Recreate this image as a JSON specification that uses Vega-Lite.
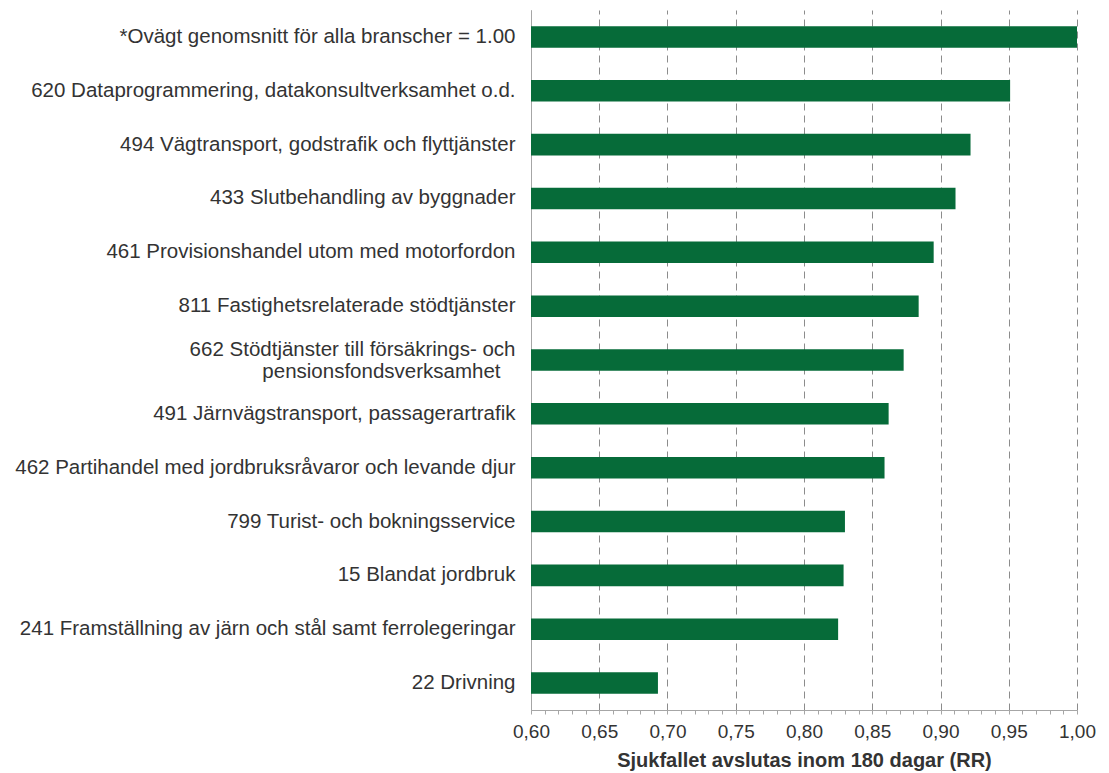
{
  "$schema": "https://vega.github.io/schema/vega-lite/v6.json",
  "autosize": {"type": "none"},
  "padding": {"left": 531, "top": 10, "right": 32, "bottom": 63},
  "width": 546,
  "height": 700,
  "background": "white",
  "config": {
    "view": {"stroke": null},
    "font": "Liberation Sans",
    "axis": {"labelFont": "Liberation Sans", "titleFont": "Liberation Sans"}
  },
  "data": {
    "values": [
      {"bransch": "*Ovägt genomsnitt för alla branscher = 1.00", "rr": 1.0},
      {"bransch": "620 Dataprogrammering, datakonsultverksamhet o.d.", "rr": 0.951},
      {"bransch": "494 Vägtransport, godstrafik och flyttjänster", "rr": 0.922},
      {"bransch": "433 Slutbehandling av byggnader", "rr": 0.911},
      {"bransch": "461 Provisionshandel utom med motorfordon", "rr": 0.895},
      {"bransch": "811 Fastighetsrelaterade stödtjänster", "rr": 0.884},
      {"bransch": "662 Stödtjänster till försäkrings- och|pensionsfondsverksamhet\u2800", "rr": 0.873},
      {"bransch": "491 Järnvägstransport, passagerartrafik", "rr": 0.862},
      {"bransch": "462 Partihandel med jordbruksråvaror och levande djur", "rr": 0.859},
      {"bransch": "799 Turist- och bokningsservice", "rr": 0.83},
      {"bransch": "15 Blandat jordbruk", "rr": 0.829},
      {"bransch": "241 Framställning av järn och stål samt ferrolegeringar", "rr": 0.825},
      {"bransch": "22 Drivning", "rr": 0.693}
    ]
  },
  "resolve": {"axis": {"x": "independent"}},
  "layer": [
    {
      "mark": {"type": "bar", "color": "#066b39", "clip": true},
      "encoding": {
        "y": {
          "field": "bransch",
          "type": "nominal",
          "sort": null,
          "scale": {"paddingInner": 0.6, "paddingOuter": 0.3},
          "axis": {
            "title": null,
            "ticks": false,
            "labelPadding": 16,
            "labelFontSize": 20.5,
            "labelColor": "#333333",
            "labelLimit": 600,
            "labelLineHeight": 22,
            "labelOffset": {"condition": {"test": "indexof(datum.value, '|') >= 0", "value": -10}, "value": 0},
            "labelExpr": "split(datum.label, '|')",
            "domainColor": "#a6a6a6",
            "domainWidth": 1
          }
        },
        "x": {
          "field": "rr",
          "type": "quantitative",
          "scale": {"domain": [0.6, 1.0], "zero": false, "nice": false},
          "axis": {
            "orient": "bottom",
            "values": [0.6, 0.65, 0.7, 0.75, 0.8, 0.85, 0.9, 0.95, 1.0],
            "labelExpr": "replace(format(datum.value, '.2f'), '.', ',')",
            "labelFontSize": 19,
            "labelFlush": false,
            "labelColor": "#333333",
            "labelPadding": 12,
            "ticks": false,
            "grid": true,
            "gridColor": "#8c8c8c",
            "gridDash": [7, 5],
            "gridWidth": 1,
            "domainColor": "#a6a6a6",
            "title": "Sjukfallet avslutas inom 180 dagar (RR)",
            "titleFontSize": 20,
            "titleFontWeight": "bold",
            "titleColor": "#333333",
            "titlePadding": 9
          }
        }
      }
    },
    {
      "mark": {"type": "bar", "opacity": 0},
      "encoding": {
        "y": {"field": "bransch", "type": "nominal", "sort": null},
        "x": {
          "field": "rr",
          "type": "quantitative",
          "axis": {
            "orient": "bottom",
            "values": [0.6,0.61,0.62,0.63,0.64,0.65,0.66,0.67,0.68,0.69,0.7,0.71,0.72,0.73,0.74,0.75,0.76,0.77,0.78,0.79,0.8,0.81,0.82,0.83,0.84,0.85,0.86,0.87,0.88,0.89,0.9,0.91,0.92,0.93,0.94,0.95,0.96,0.97,0.98,0.99,1.0],
            "labels": false,
            "domain": false,
            "grid": false,
            "ticks": true,
            "tickSize": 4,
            "tickColor": "#a6a6a6",
            "title": null
          }
        }
      }
    }
  ]
}
